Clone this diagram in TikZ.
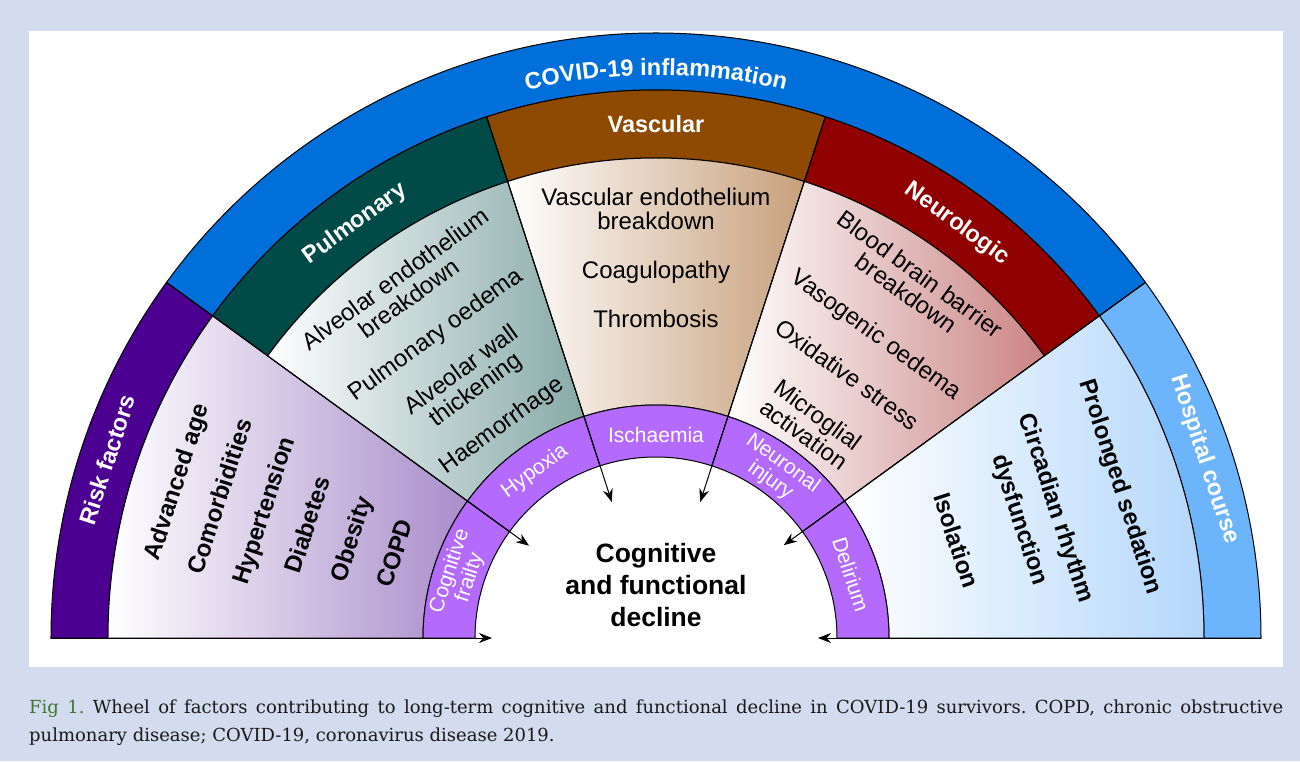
\documentclass[tikz,border=0pt]{standalone}
\usepackage{fontspec}
\setmainfont{Liberation Sans}
\newfontfamily\captionserif{DejaVu Serif}
\usetikzlibrary{arrows.meta, decorations.text}

\definecolor{pagebg}{RGB}{211,220,238}
\definecolor{riskband}{RGB}{75,0,145}
\definecolor{covidband}{RGB}{0,111,217}
\definecolor{hospband}{RGB}{108,180,251}
\definecolor{pulmhead}{RGB}{0,75,71}
\definecolor{vaschead}{RGB}{142,74,0}
\definecolor{neurohead}{RGB}{145,0,0}
\definecolor{riskfill}{RGB}{169,141,203}
\definecolor{pulmfill}{RGB}{135,170,168}
\definecolor{vascfill}{RGB}{200,160,124}
\definecolor{neurofill}{RGB}{203,132,132}
\definecolor{hospfill}{RGB}{180,215,251}
\definecolor{ringpurple}{RGB}{180,107,253}
\definecolor{figgreen}{RGB}{64,120,48}

\begin{document}
\begin{tikzpicture}[x=1pt, y=1pt,
    wheel/.style={draw=black, line width=1pt},
    arr/.style={-{Stealth[length=13pt, width=10pt]}, line width=1pt},
    headtext/.style={text=white, font=\bfseries\fontsize{23.5}{24}\selectfont},
    ringtext/.style={text=white, align=center, font=\fontsize{21}{21}\selectfont}]
    \useasboundingbox (-656,-123) rectangle (644,638);

    % Page and panel
    \fill[pagebg] (-656,-123) rectangle (644,638);
    \fill[white] (-627,-29) rectangle (627,607);

    % Outer ring
    \foreach \a/\b/\col in {180/144/riskband, 144/36/covidband, 36/0/hospband} {
        \draw[wheel, fill=\col] (\a:605) arc[start angle=\a, end angle=\b, radius=605]
            -- (\b:548) arc[start angle=\b, end angle=\a, radius=548] -- cycle;
    }

    % Headers
    \foreach \a/\b/\col in {144/108/pulmhead, 108/72/vaschead, 72/36/neurohead} {
        \draw[wheel, fill=\col] (\a:548) arc[start angle=\a, end angle=\b, radius=548]
            -- (\b:480) arc[start angle=\b, end angle=\a, radius=480] -- cycle;
    }

    % Shaded sectors
    \foreach \a/\b/\r/\col in {180/144/548/riskfill, 144/108/480/pulmfill, 108/72/480/vascfill,
                               72/36/480/neurofill, 36/0/548/hospfill} {
        \draw[wheel, left color=white, right color=\col] (\a:\r) arc[start angle=\a, end angle=\b, radius=\r]
            -- (\b:233) arc[start angle=\b, end angle=\a, radius=233] -- cycle;
    }

    % Inner ring
    \foreach \a/\b in {180/144, 144/108, 108/72, 72/36, 36/0} {
        \draw[wheel, fill=ringpurple] (\a:233) arc[start angle=\a, end angle=\b, radius=233]
            -- (\b:181) arc[start angle=\b, end angle=\a, radius=181] -- cycle;
    }

    % Arrows
    \foreach \a/\rs/\rt in {180/605/164, 144/605/157, 108/548/143, 72/548/143, 36/605/158, 0/605/162} {
        \coordinate (s\a) at (\a:\rs);
        \coordinate (t\a) at (\a:\rt);
        \draw[arr] (s\a) -- (t\a);
    }

    % Ring titles
    \path[decorate, decoration={text along path, text align=center, text color=white,
        text={|\bfseries\fontsize{23.5}{24}\selectfont|COVID-19 inflammation}}]
        (144:563) arc[start angle=144, end angle=36, radius=563];
    \node[headtext, rotate=72] (risktitle) at (162:577) {Risk factors};
    \node[headtext, rotate=-72] (hosptitle) at (18:577) {Hospital course};
    \node[headtext, rotate=36] (pulmtitle) at (126:512) {Pulmonary};
    \node[headtext] (vasctitle) at (90:514) {Vascular};
    \node[headtext, rotate=-36] (neurotitle) at (54:512) {Neurologic};

    % Sector contents
    \node[rotate=72, align=center, font=\bfseries\fontsize{24}{46}\selectfont] (risklist) at (162:390)
        {Advanced age\\Comorbidities\\Hypertension\\Diabetes\\Obesity\\COPD};
    \node[rotate=36, align=center, font=\fontsize{24}{24}\selectfont] (pulmlist) at (126:352)
        {Alveolar endothelium\\breakdown\\[20pt]Pulmonary oedema\\[20pt]Alveolar wall\\thickening\\[20pt]Haemorrhage};
    \node[align=center, font=\fontsize{24}{24}\selectfont] (vasclist) at (0,380)
        {Vascular endothelium\\breakdown\\[25pt]Coagulopathy\\[25pt]Thrombosis};
    \node[rotate=-36, align=center, font=\fontsize{24}{24}\selectfont] (neurolist) at (54:351)
        {Blood brain barrier\\breakdown\\[26pt]Vasogenic oedema\\[26pt]Oxidative stress\\[26pt]Microglial\\activation};
    \node[rotate=-72, align=center, font=\bfseries\fontsize{24}{38}\selectfont] (hosplist) at (18:403)
        {Prolonged sedation\\[30pt]Circadian rhythm\\dysfunction\\[30pt]Isolation};

    % Inner ring labels
    \node[ringtext, rotate=72] (frailty) at (162:206) {Cognitive\\frailty};
    \node[ringtext, rotate=36] (hypoxia) at (126:206) {Hypoxia};
    \node[ringtext] (ischaemia) at (90:203) {Ischaemia};
    \node[ringtext, rotate=-36] (neuronal) at (54:205) {Neuronal\\injury};
    \node[ringtext, rotate=-72] (delirium) at (18:205) {Delirium};

    % Centre
    \node[align=center, font=\bfseries\fontsize{26.5}{32}\selectfont] (decline) at (0,53)
        {Cognitive\\and functional\\decline};

    % Caption
    \node[anchor=north west, inner sep=0pt, text width=1254pt, align=justify,
        font=\captionserif\frenchspacing\fontsize{18}{28}\selectfont, text=black!90] (caption) at (-627,-62)
        {\textcolor{figgreen}{Fig 1.} Wheel of factors contributing to long-term cognitive and functional decline in COVID-19 survivors. COPD, chronic obstructive\linebreak pulmonary disease; COVID-19, coronavirus disease 2019.};
\end{tikzpicture}
\end{document}
